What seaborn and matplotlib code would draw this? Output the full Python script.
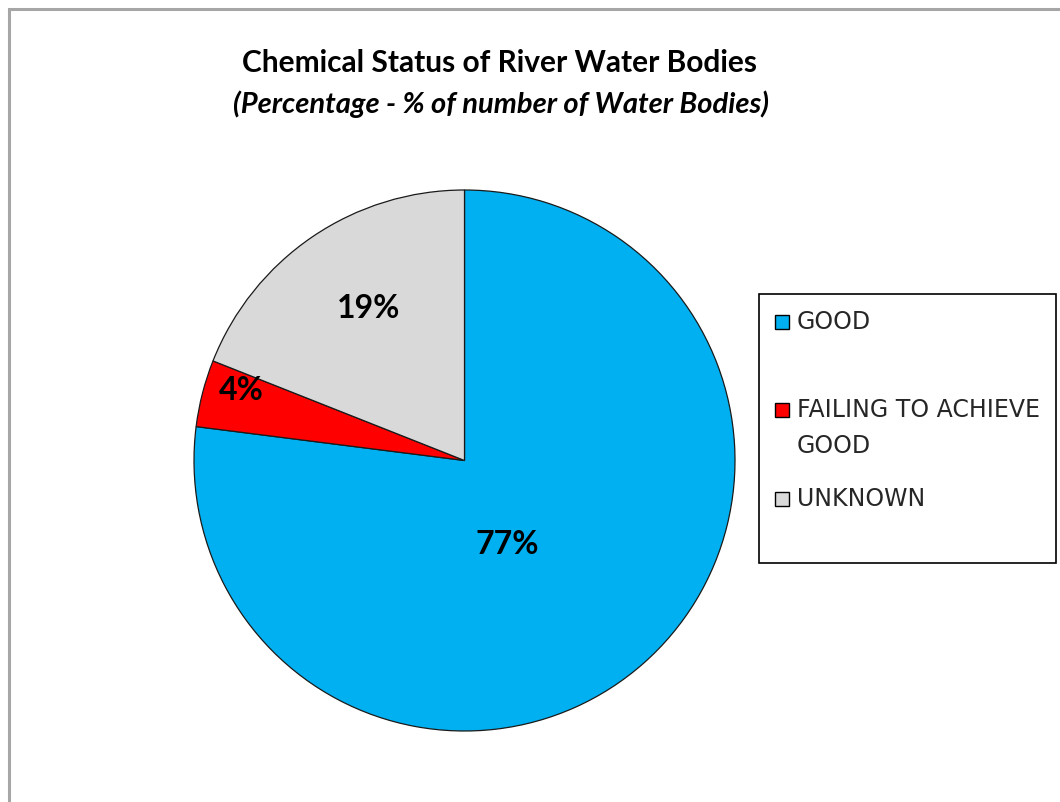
import matplotlib
matplotlib.use("Agg")
import matplotlib.pyplot as plt
from matplotlib.patches import Rectangle
import seaborn as sns

# ---- data ----
categories = ["GOOD", "FAILING TO ACHIEVE GOOD", "UNKNOWN"]
legend_labels = ["GOOD", "FAILING TO ACHIEVE\nGOOD", "UNKNOWN"]
values = [77, 4, 19]
pct_labels = ["77%", "4%", "19%"]
title = "Chemical Status of River Water Bodies"
subtitle = "(Percentage - % of number of Water Bodies)"

# ---- style ----
sns.set_theme(style="white")
colors = ["#00B0F0", "#FF0000", "#D9D9D9"]
plt.rcParams["font.family"] = ["DejaVu Sans"]

W, H = 1060, 802
fig = plt.figure(figsize=(W / 100, H / 100), dpi=100)
fig.patch.set_facecolor("white")


def fx(x):
    return x / W


def fy(y):
    return 1 - y / H


# outer chart border (top/left visible)
fig.patches.append(Rectangle((fx(9), fy(H + 20)), fx(W + 20), (H + 20 - 9) / H,
                             transform=fig.transFigure, fill=False,
                             edgecolor="#A6A6A6", linewidth=2.2))

# pie axes: centre (464.5, 460.5) px, radius 270.5 px
cx, cy, r = 464.5, 460.5, 270.5
ax = fig.add_axes([fx(cx - r), fy(cy + r), 2 * r / W, 2 * r / H])
wedges, _ = ax.pie(values, colors=colors, startangle=90, counterclock=False,
                   wedgeprops=dict(edgecolor="#1a1a1a", linewidth=0.9))
ax.set_xlim(-1, 1)
ax.set_ylim(-1, 1)
ax.set_aspect("equal")
ax.axis("off")

# data labels (pixel placement like the original)
label_pos = [(507, 545), (241, 390), (369, 308)]
for txt, (x, y) in zip(pct_labels, label_pos):
    fig.text(fx(x), fy(y), txt, ha="center", va="center", fontsize=23,
             fontweight="bold", family=["Lato", "DejaVu Sans"], color="#000000")

# titles
fig.text(fx(500), fy(63), title, ha="center", va="center", fontsize=21.5,
         fontweight="bold", family=["Lato", "DejaVu Sans"], color="#000000")
fig.text(fx(501), fy(104), subtitle, ha="center", va="center", fontsize=21,
         fontweight="bold", style="italic", family=["Lato", "DejaVu Sans"],
         color="#000000")

# legend box
lx0, ly0, lx1, ly1 = 759, 294, 1056, 563
fig.patches.append(Rectangle((fx(lx0), fy(ly1)), (lx1 - lx0) / W, (ly1 - ly0) / H,
                             transform=fig.transFigure, fill=False,
                             edgecolor="#000000", linewidth=1.2))
entry_y = [322, 410, 499]
for lab, col, y in zip(legend_labels, colors, entry_y):
    fig.patches.append(Rectangle((fx(775), fy(y + 7)), 14 / W, 14 / H,
                                 transform=fig.transFigure, facecolor=col,
                                 edgecolor="#000000", linewidth=1.0))
    lines = lab.split("\n")
    for i, line in enumerate(lines):
        fig.text(fx(797), fy(y + 36 * i), line, ha="left", va="center",
                 fontsize=17, color="#262626")

fig.savefig("out.png", dpi=100)
